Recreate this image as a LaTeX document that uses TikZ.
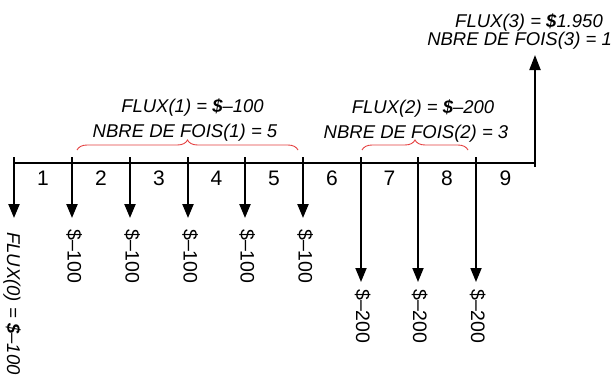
\documentclass[tikz,border=0pt]{standalone}
\usepackage{fontspec}
\setmainfont{Liberation Sans}
\usetikzlibrary{arrows.meta,decorations.pathreplacing}
\definecolor{bracered}{RGB}{228,62,62}
\begin{document}
\begin{tikzpicture}[x=1pt,y=-1pt,
  axisline/.style={line width=1.3pt},
  flow/.style={line width=2.2pt,-{Triangle[length=14pt,width=11pt]}},
  upflow/.style={line width=2pt,-{Triangle[length=15pt,width=11pt]}},
  flowlong/.style={line width=1.8pt,-{Triangle[length=14pt,width=11pt]}},
  period/.style={inner sep=0pt,anchor=base,font=\fontsize{21}{24}\selectfont},
  amount/.style={inner sep=0pt,anchor=base west,rotate=-90,font=\fontsize{19.5}{22}\selectfont},
  info/.style={inner sep=0pt,anchor=base,font=\fontsize{18.5}{22}\selectfont\itshape},
  grouping/.style={draw=bracered,line width=0.9pt,decorate,decoration={brace,amplitude=10pt}}
]
\useasboundingbox (0,0) rectangle (613,375);

% tick coordinates
\foreach \i/\x in {0/14,1/72,2/130,3/188,4/245,5/303,6/361,7/418,8/476,9/535}{
  \coordinate (t\i) at (\x,157);
  \coordinate (a\i) at (\x,163);
}
\coordinate (axend) at (535,167);

% axis
\draw[axisline] (a0) -- (a9);

% period numbers
\foreach \n/\x in {1/43,2/101,3/159,4/216.5,5/274,6/332,7/389.5,8/447,9/505.5}{
  \node[period] (p\n) at (\x,185.5) {\n};
}

% down arrows -100
\foreach \i/\x in {0/14,1/72,2/130,3/188,4/245,5/303}{
  \coordinate (e\i) at (\x,218);
  \draw[flow] (t\i) -- (e\i);
}
\foreach \i/\x in {1/72,2/130,3/188,4/245,5/303}{
  \node[amount] (l\i) at (\x-4.5,229) {\$–100};
}
\node[inner sep=0pt,anchor=base west,rotate=-90,font=\fontsize{18.5}{22}\selectfont\itshape] (l0) at (7,232) {FLUX(0) = \textbf{\$}–100};

% down arrows -200
\foreach \i/\x in {6/361,7/418,8/476}{
  \coordinate (e\i) at (\x,282);
  \draw[flowlong] (t\i) -- (e\i);
  \node[amount] (l\i) at (\x-5,289) {\$–200};
}

% up arrow
\coordinate (upend) at (535,55);
\draw[upflow] (axend) -- (upend);

% braces
\coordinate (b1s) at (77,150);
\coordinate (b1e) at (298,150);
\coordinate (b2s) at (362,150);
\coordinate (b2e) at (468,150);
\draw[grouping] (b1s) -- (b1e);
\draw[grouping] (b2s) -- (b2e);

% info labels
\node[info] (f1) at (192.5,112) {FLUX(1) = \textbf{\$}–100};
\node[info] (n1) at (185,137) {NBRE DE FOIS(1) = 5};
\node[info] (f2) at (423,113) {FLUX(2) = \textbf{\$}–200};
\node[info] (n2) at (416,138) {NBRE DE FOIS(2) = 3};
\node[info,anchor=base east] (f3) at (603,27) {FLUX(3) = \textbf{\$}1.950};
\node[info,anchor=base east] (n3) at (612,45) {NBRE DE FOIS(3) = 1};
\end{tikzpicture}
\end{document}
